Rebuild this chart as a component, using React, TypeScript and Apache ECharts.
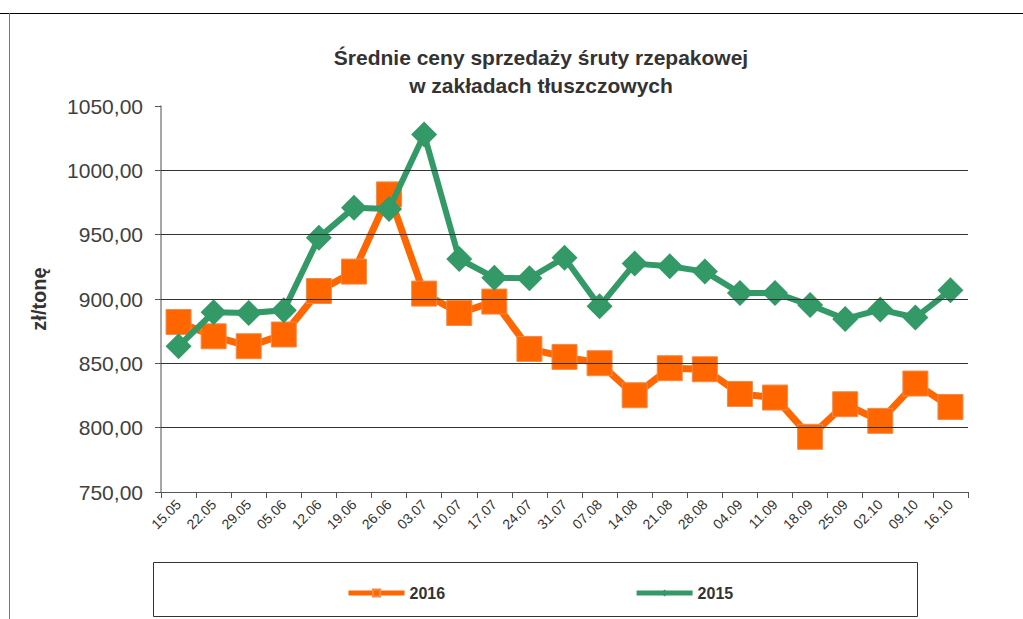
import React, { useEffect, useRef } from "react";
import * as echarts from "echarts";

const categories = [
  "15.05", "22.05", "29.05", "05.06", "12.06", "19.06", "26.06", "03.07",
  "10.07", "17.07", "24.07", "31.07", "07.08", "14.08", "21.08", "28.08",
  "04.09", "11.09", "18.09", "25.09", "02.10", "09.10", "16.10",
];

const values2016 = [
  882.1, 871.0, 863.3, 872.4, 906.2, 921.3, 981.3, 904.2, 889.1, 898.0,
  861.2, 855.0, 850.1, 825.2, 846.2, 845.4, 826.2, 823.4, 792.9, 818.2,
  805.3, 834.3, 816.1,
];

const values2015 = [
  863.3, 889.7, 889.1, 891.2, 947.7, 971.0, 969.9, 1027.9, 931.1, 916.6,
  916.1, 932.1, 894.3, 927.5, 925.4, 921.3, 904.7, 904.7, 895.3, 884.5,
  891.8, 885.6, 906.8,
];

const gridValues = [800, 850, 900, 950, 1000];

const titleLines = ["Średnie ceny sprzedaży śruty rzepakowej", "w zakładach tłuszczowych"];
const yAxisName = "zł/tonę";

const FONT = "'Liberation Sans', Arial, sans-serif";

export default function App() {
  const ref = useRef<HTMLDivElement>(null);

  useEffect(() => {
    if (!ref.current) return;
    const chart = echarts.init(ref.current, null, { renderer: "svg" });
    chart.setOption({
      animation: false,
      backgroundColor: "#ffffff",
      textStyle: { fontFamily: FONT },
      title: {
        text: titleLines.join("\n"),
        left: 541,
        textAlign: "center",
        top: 43,
        padding: 0,
        textStyle: {
          fontFamily: FONT,
          fontSize: 21,
          fontWeight: "bold",
          color: "#333333",
          lineHeight: 28,
        },
      },
      legend: {
        left: 341,
        top: 580,
        itemWidth: 56,
        itemHeight: 9,
        itemGap: 189,
        lineStyle: { width: 5 },
        textStyle: { fontFamily: FONT, fontSize: 16, fontWeight: "bold", color: "#333333" },
        data: ["2016", "2015"],
      },
      grid: { left: 161, right: 55, top: 106, bottom: 127, containLabel: false },
      xAxis: {
        type: "category",
        data: categories,
        boundaryGap: true,
        axisLine: { lineStyle: { color: "#555555", width: 1 } },
        axisTick: { show: true, length: 6, lineStyle: { color: "#555555" } },
        axisLabel: {
          rotate: 45,
          fontSize: 14,
          color: "#333333",
          margin: 10,
          fontFamily: FONT,
          interval: 0,
        },
      },
      yAxis: {
        type: "value",
        min: 750,
        max: 1050,
        interval: 50,
        name: yAxisName,
        nameLocation: "middle",
        nameGap: 112,
        nameTextStyle: { fontFamily: FONT, fontSize: 20, fontWeight: "bold", color: "#333333" },
        axisLine: { show: true, lineStyle: { color: "#888888", width: 1.5 } },
        axisTick: { show: true, length: 6, lineStyle: { color: "#555555" } },
        axisLabel: {
          fontSize: 21,
          color: "#404040",
          margin: 18,
          fontFamily: FONT,
          formatter: (v: number) => v.toFixed(2).replace(".", ","),
        },
        splitLine: { show: false },
      },
      series: [
        {
          name: "grid",
          type: "line",
          data: [],
          z: 0,
          silent: true,
          markLine: {
            silent: true,
            symbol: "none",
            label: { show: false },
            lineStyle: { color: "#333333", width: 1, type: "solid" },
            data: gridValues.map((v) => ({ yAxis: v })),
          },
        },
        {
          name: "2016",
          type: "line",
          data: values2016,
          symbol: "rect",
          symbolSize: 25,
          z: 3,
          lineStyle: { color: "#FF6600", width: 7 },
          itemStyle: { color: "#FF6600", borderColor: "#F08C4A", borderWidth: 1 },
        },
        {
          name: "2015",
          type: "line",
          data: values2015,
          symbol: "diamond",
          symbolSize: 26,
          z: 4,
          lineStyle: { color: "#339966", width: 6 },
          itemStyle: { color: "#339966" },
        },
      ],
      graphic: [
        {
          type: "line",
          shape: { x1: 0, y1: 13.5, x2: 1023, y2: 13.5 },
          style: { stroke: "#000000", lineWidth: 1 },
          silent: true,
        },
        {
          type: "line",
          shape: { x1: 9.5, y1: 13, x2: 9.5, y2: 619 },
          style: { stroke: "#777777", lineWidth: 1 },
          silent: true,
        },
        {
          type: "rect",
          shape: { x: 153.5, y: 562.5, width: 764, height: 54 },
          style: { fill: "none", stroke: "#333333", lineWidth: 1 },
          silent: true,
          z: -1,
        },
      ],
    });
    return () => chart.dispose();
  }, []);

  return (
    <div
      ref={ref}
      style={{ position: "fixed", left: 0, top: 0, width: 1023, height: 619 }}
    />
  );
}
